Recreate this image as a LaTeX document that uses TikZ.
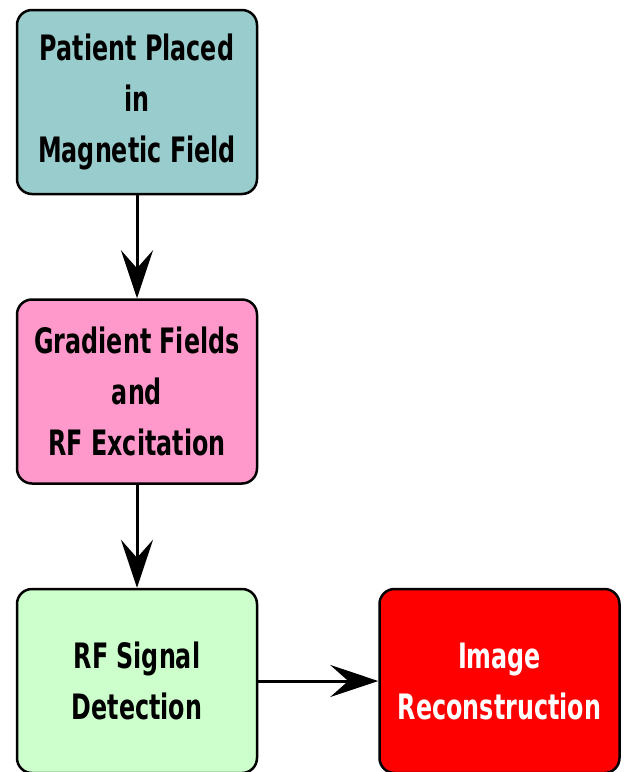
\documentclass[tikz,border=0pt]{standalone}
\usepackage{fontspec}
\setmainfont{DejaVu Sans}[FakeStretch=0.68]
\usepackage{color}
\usetikzlibrary{positioning,arrows.meta}
\definecolor{boxteal}{HTML}{99CCCC}
\definecolor{boxpink}{HTML}{FF99CC}
\definecolor{boxgreen}{HTML}{CCFFCC}
\definecolor{boxred}{HTML}{FF0000}

\begin{document}
\begin{tikzpicture}
    [x=1pt, y=-1pt,
    node distance = 103pt,
    thick,
    stepbox/.style={draw=black, line width=2.5pt, rounded corners=15pt,
        minimum width=240pt, minimum height=184pt, align=center,
        font=\bfseries\fontsize{35}{51}\selectfont},
    flow/.style={line width=3pt, -{Stealth[length=48pt, width=32pt, inset=18pt]}}]
        \useasboundingbox (0,0) rectangle (625,772);
        %% MRI steps
        \node[stepbox, fill=boxteal] (Place) at (137,102) {Patient Placed\\in\\Magnetic Field};
        \node[stepbox, fill=boxpink, below = of Place] (Grad) {Gradient Fields\\and\\RF Excitation};
        \node[stepbox, fill=boxgreen, below = of Grad] (Detect) {RF Signal\\Detection};
        \node[stepbox, fill=boxred, text=white, right = 120pt of Detect] (Recon) {Image\\Reconstruction};

        \draw[flow] (Place) to (Grad);
        \draw[flow] (Grad) to (Detect);
        \draw[flow] (Detect) to (Recon);
    \end{tikzpicture}
\end{document}
